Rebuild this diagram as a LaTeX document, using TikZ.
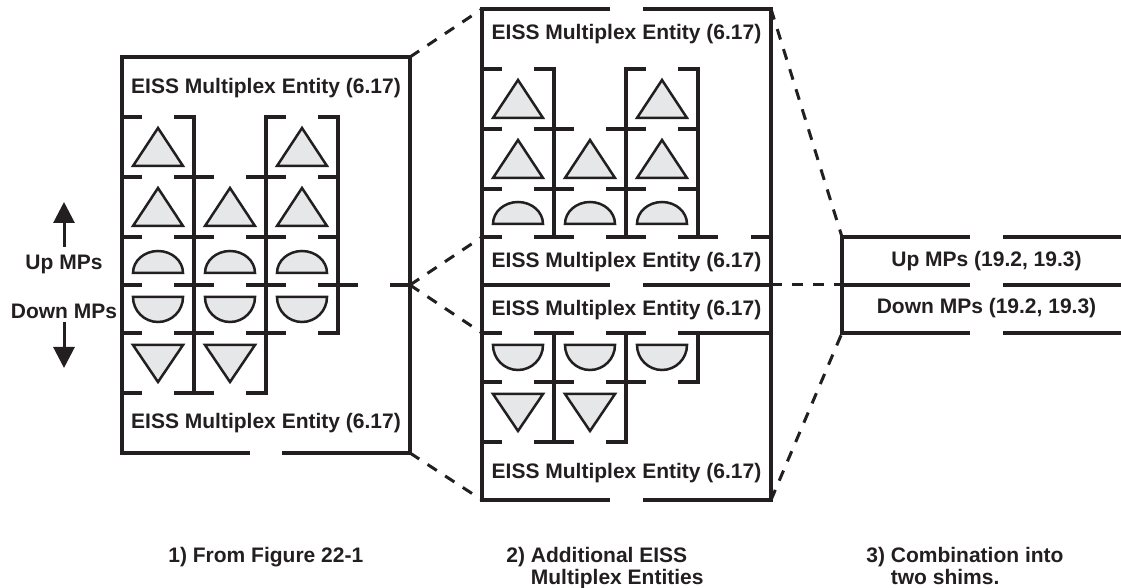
\documentclass[tikz,border=0pt]{standalone}
\usepackage{fontspec}
\setmainfont{Liberation Sans}
\usetikzlibrary{arrows.meta}
\definecolor{ink}{HTML}{231F20}
\definecolor{shade}{HTML}{E6E7E8}

\begin{document}
\begin{tikzpicture}[
    x=0.5pt, y=-0.5pt,
    wall/.style={draw=ink, line width=1.6pt, line cap=rect},
    shp/.style={draw=ink, fill=shade, line width=1.25pt},
    link/.style={draw=ink, line width=1.5pt, dash pattern=on 5.5pt off 5pt},
    lbl/.style={font=\fontsize{10.5}{12}\selectfont\bfseries, text=ink, inner sep=0pt, text height=7.5pt, text depth=0pt},
    caption/.style={font=\fontsize{10.5}{9.4}\selectfont\bfseries, text=ink, inner sep=0pt, align=left, anchor=north west},
    arr/.style={draw=ink, line width=1.5pt, -{Triangle[width=10.5pt, length=10.5pt]}}
  ]
  \useasboundingbox (0,0) rectangle (1121,588);

  % panel outlines
  \draw[wall] (248,453) -- (122,453) -- (122,57) -- (410,57) -- (410,453) -- (284,453);
  \draw[wall] (608,9) -- (482,9) -- (482,500) -- (608,500) (645,500) -- (771,500) -- (771,9) -- (645,9)
    (482,285) -- (608,285) (645,285) -- (771,285);
  \draw[wall] (968,237) -- (842,237) -- (842,333) -- (968,333) (1005,237) -- (1130,237)
    (1005,333) -- (1130,333) (842,285) -- (968,285) (1005,285) -- (1130,285);

  % cell frames: left x / top y / height
  \foreach \x/\y/\h in {122/117/60, 122/177/60, 122/237/48, 122/285/48, 122/333/60,
      194/177/60, 194/237/48, 194/285/48, 194/333/60,
      266/117/60, 266/177/60, 266/237/48, 266/285/48,
      482/69/60, 482/129/60, 482/189/48, 554/129/60, 554/189/48,
      626/69/60, 626/129/60, 626/189/48,
      482/333/49, 482/382/60, 554/333/49, 554/382/60, 626/333/49}
    \draw[wall] (\x,\y) -- ++(0,\h) (\x+72,\y) -- ++(0,\h)
      (\x,\y) -- ++(18,0) (\x+54,\y) -- ++(18,0)
      (\x,\y+\h) -- ++(18,0) (\x+54,\y+\h) -- ++(18,0);
  \draw[wall] (338,285) -- ++(18,0) (392,285) -- ++(18,0)
    (698,237) -- ++(18,0) (753,237) -- ++(18,0) (698,333) -- (771,333);

  % MP symbols
  \foreach \x/\y in {158/147, 302/147, 158/207, 230/207, 302/207, 518/99, 662/99, 518/159, 590/159, 662/159}
    \draw[shp] (\x,\y-19) -- (\x+25,\y+19) -- (\x-25,\y+19) -- cycle;
  \foreach \x/\y in {158/262, 230/262, 302/262, 518/213, 590/213, 662/213}
    \draw[shp] (\x-25,\y+11) arc[start angle=180, end angle=0, x radius=12.5pt, y radius=11pt] -- cycle;
  \foreach \x/\y in {158/309, 230/309, 302/309, 518/357, 590/357, 662/357}
    \draw[shp] (\x-25,\y-12) arc[start angle=180, end angle=360, radius=12.5pt] -- cycle;
  \foreach \x/\y in {158/363, 230/363, 518/412, 590/412}
    \draw[shp] (\x-25,\y-18) -- (\x+25,\y-18) -- (\x,\y+19) -- cycle;

  % texts
  \node[lbl] (e1top) at (266,86) {EISS Multiplex Entity (6.17)};
  \node[lbl] (e1bot) at (266,421) {EISS Multiplex Entity (6.17)};
  \node[lbl] (e2a) at (626.5,32) {EISS Multiplex Entity (6.17)};
  \node[lbl] (e2b) at (626.5,260) {EISS Multiplex Entity (6.17)};
  \node[lbl] (e2c) at (626.5,308) {EISS Multiplex Entity (6.17)};
  \node[lbl] (e2d) at (626.5,471) {EISS Multiplex Entity (6.17)};
  \node[lbl] (upshim) at (986.5,259) {Up MPs (19.2, 19.3)};
  \node[lbl] (downshim) at (986.5,306) {Down MPs (19.2, 19.3)};
  \node[lbl] (uplbl) at (64,262) {Up MPs};
  \node[lbl] (downlbl) at (64,311) {Down MPs};
  \node[caption] (cap1) at (168,547) {1) From Figure 22-1};
  \node[caption] (cap2) at (506,547) {2) Additional EISS\\\hphantom{2) }Multiplex Entities};
  \node[caption] (cap3) at (866,547) {3) Combination into\\\hphantom{3) }two shims.};

  % direction arrows
  \coordinate (uptip) at (64,202);
  \coordinate (downtip) at (64,368);
  \draw[arr, shorten <=3.75pt] (uplbl.north) -- (uptip);
  \draw[arr, shorten <=1.75pt] (downlbl.south) -- (downtip);

  % zoom connectors
  \coordinate (aNE) at (410,57);
  \coordinate (aE) at (410,285);
  \coordinate (aSE) at (410,453);
  \coordinate (bNW) at (482,9);
  \coordinate (bW1) at (482,237);
  \coordinate (bW2) at (482,333);
  \coordinate (bSW) at (482,500);
  \coordinate (bNE) at (771,9);
  \coordinate (bE) at (771,285);
  \coordinate (bSE) at (771,500);
  \coordinate (cNW) at (842,237);
  \coordinate (cW) at (842,285);
  \coordinate (cSW) at (842,333);
  \foreach \a/\b in {aNE/bNW, aE/bW1, aE/bW2, aSE/bSW, bNE/cNW, bE/cW, bSE/cSW}
    \draw[link] (\a) -- (\b);
\end{tikzpicture}
\end{document}
